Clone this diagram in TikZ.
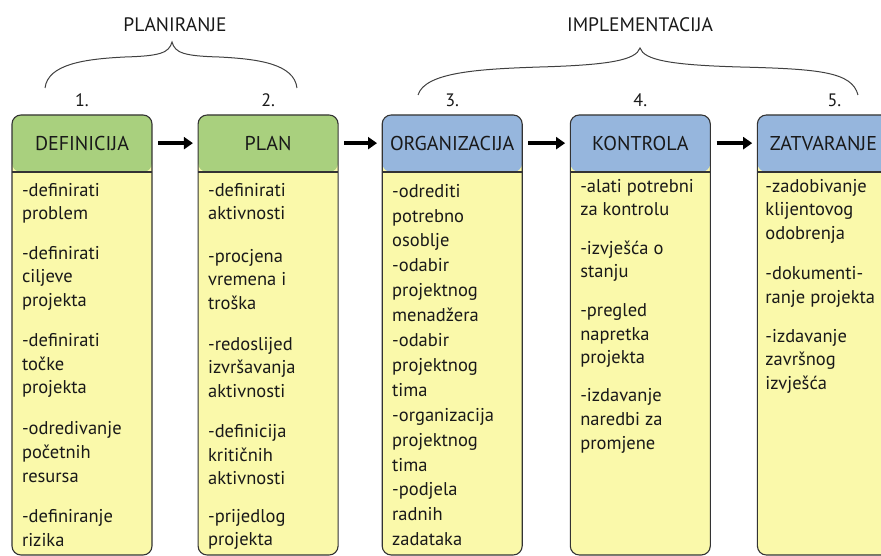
\documentclass[tikz,border=0pt]{standalone}
\usepackage{fontspec}
\setmainfont{PT Sans}
\usetikzlibrary{arrows.meta, positioning}
\definecolor{hdrgreen}{HTML}{A9D07E}
\definecolor{hdrblue}{HTML}{96B6DD}
\definecolor{bodyyellow}{HTML}{FAF9AA}
\tikzset{
  stage/.style={rectangle, rounded corners=9pt, draw=black!80, line width=1.1pt,
                fill=bodyyellow, minimum width=140pt, minimum height=440pt, inner sep=0pt,
                path picture={
                  \fill[#1] (path picture bounding box.north west) rectangle
                    ([yshift=-57pt]path picture bounding box.north east);
                  \draw[black!80, line width=1.1pt] ([yshift=-57pt]path picture bounding box.north west)
                    -- ([yshift=-57pt]path picture bounding box.north east);}},
  title/.style={minimum width=140pt, minimum height=57pt, inner sep=1pt,
                font=\fontsize{20}{24}\selectfont, text=black!90},
  items/.style={align=left, inner sep=0pt, anchor=north west,
                font=\fontsize{18.5}{23.6}\selectfont, text=black!90},
  num/.style={inner sep=0pt, font=\fontsize{18}{21}\selectfont, text=black!90},
  phase/.style={font=\fontsize{19.5}{23}\selectfont, text=black!90},
  flow/.style={-{Triangle[length=9pt, width=12pt]}, line width=3.6pt,
               shorten <=6pt, shorten >=5pt},
  brace/.style={line width=1pt, black!75},
}
\begin{document}
\begin{tikzpicture}[x=1pt, y=1pt]
\useasboundingbox (0,0) rectangle (881,556);
\clip (0,0) rectangle (881,556);

\node[stage=hdrgreen] (def) at (82,221) {};
\node[stage=hdrgreen, right=45pt of def] (plan) {};
\node[stage=hdrblue, right=43pt of plan] (org) {};
\node[stage=hdrblue, right=47pt of org] (kon) {};
\node[stage=hdrblue, right=46pt of kon] (zat) {};

\node[title, below=0pt of def.north] (deft) {DEFINICIJA};
\node[title, below=0pt of plan.north] (plant) {PLAN};
\node[title, below=0pt of org.north] (orgt) {ORGANIZACIJA};
\node[title, below=0pt of kon.north] (kont) {KONTROLA};
\node[title, below=0pt of zat.north, xshift=-4pt] (zatt) {ZATVARANJE};

\node[num, above=8pt of def] (n1) {1.};
\node[num, above=8pt of plan] (n2) {2.};
\node[num, above=8pt of org] (n3) {3.};
\node[num, above=8pt of kon] (n4) {4.};
\node[num, above=8pt of zat, xshift=7pt] (n5) {5.};

\node[items] (defi) at ([xshift=10pt, yshift=-11pt]deft.south west)
  {-definirati\\problem\\[16pt]-definirati\\ciljeve\\projekta\\[16.5pt]-definirati\\točke\\projekta\\[17.5pt]%
   -odredivanje\\početnih\\resursa\\[17pt]-definiranje\\rizika};
\node[items] (plani) at ([xshift=10pt, yshift=-11pt]plant.south west)
  {-definirati\\aktivnosti\\[19pt]-procjena\\vremena i\\troška\\[17pt]-redoslijed\\izvršavanja\\aktivnosti\\[16.5pt]%
   -definicija\\kritičnih\\aktivnosti\\[14pt]-prijedlog\\projekta};
\node[items, font=\fontsize{18.5}{24.9}\selectfont] (orgi) at ([xshift=10pt, yshift=-12pt]orgt.south west)
  {-odrediti\\potrebno\\osoblje\\-odabir\\projektnog\\menadžera\\-odabir\\projektnog\\tima\\%
   -organizacija\\projektnog\\tima\\-podjela\\radnih\\zadataka};
\node[items] (koni) at ([xshift=10pt, yshift=-7pt]kont.south west)
  {-alati potrebni\\za kontrolu\\[15pt]-izvješća o\\stanju\\[15pt]-pregled\\napretka\\projekta\\[14.5pt]%
   -izdavanje\\naredbi za\\promjene};
\node[items] (zati) at ([xshift=12pt, yshift=-7pt]zatt.south west)
  {-zadobivanje\\klijentovog\\odobrenja\\[17pt]-dokumenti-\\ranje projekta\\[15pt]-izdavanje\\završnog\\izvješća};

\draw[flow] (deft) -- (plant);
\draw[flow] (plant) -- (orgt);
\draw[flow] (orgt) -- (kont);
\draw[flow] (kont) -- ([xshift=4pt]zatt.west);

\node[phase] (plph) at (175,531) {PLANIRANJE};
\node[phase] (imph) at (640,531) {IMPLEMENTACIJA};

\draw[brace] (45,468) .. controls (48,492) and (85,497) .. (125,499)
  .. controls (160,500) and (169,503) .. (172,514)
  .. controls (175,503) and (184,500) .. (219,499)
  .. controls (259,497) and (294,492) .. (297,468);
\draw[brace] (418,461) .. controls (425,484) and (480,487) .. (540,489)
  .. controls (610,491) and (636,496) .. (640,508)
  .. controls (644,496) and (670,491) .. (740,489)
  .. controls (820,487) and (852,484) .. (858,461);
\end{tikzpicture}
\end{document}
